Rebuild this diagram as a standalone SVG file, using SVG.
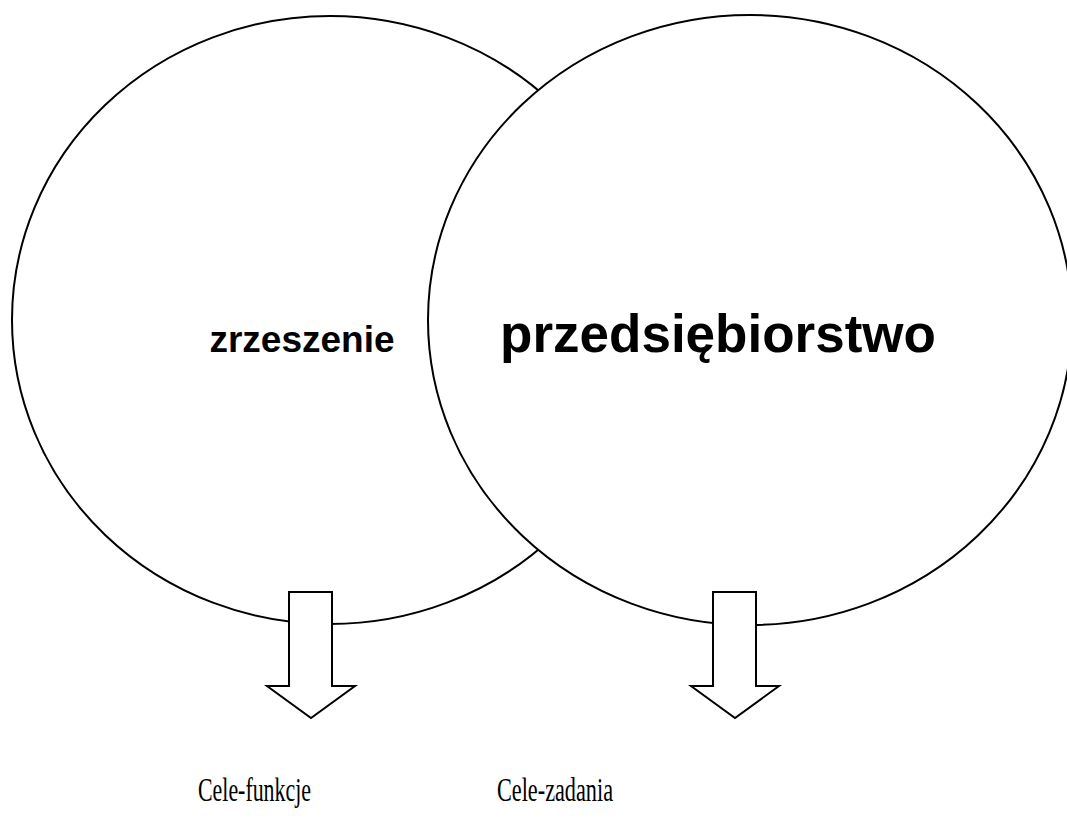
<svg xmlns="http://www.w3.org/2000/svg" width="1067" height="818" viewBox="0 0 1067 818">
<style>
.shape{fill:#fff;stroke:#000;stroke-width:2}
.big{font-family:"Liberation Sans",Arial,sans-serif;font-weight:bold;fill:#000}
.lbl{font-family:"Liberation Serif","DejaVu Serif",serif;font-size:33px;fill:#000}
</style>
<rect width="1067" height="818" fill="#fff"/>
<g id="zrzeszenie">
<ellipse class="shape" cx="330" cy="320" rx="318" ry="304"/>
</g>
<g id="przedsiebiorstwo">
<ellipse class="shape" cx="750" cy="320" rx="322" ry="305"/>
</g>
<g id="labels-big">
<text class="big" x="302" y="352" font-size="37" text-anchor="middle">zrzeszenie</text>
<text class="big" x="718" y="352" font-size="53" text-anchor="middle">przedsiębiorstwo</text>
</g>
<g id="connectors">
<path class="shape" d="M289,592 H332 V686 H355 L311,718 L267,686 H289 Z"/>
<path class="shape" d="M713,592 H756 V686 H779 L735,718 L691,686 H713 Z"/>
</g>
<g id="cele-funkcje">
<text class="lbl" x="198" y="801" textLength="113" lengthAdjust="spacingAndGlyphs">Cele-funkcje</text>
</g>
<g id="cele-zadania">
<text class="lbl" x="497" y="801" textLength="116" lengthAdjust="spacingAndGlyphs">Cele-zadania</text>
</g>
</svg>
